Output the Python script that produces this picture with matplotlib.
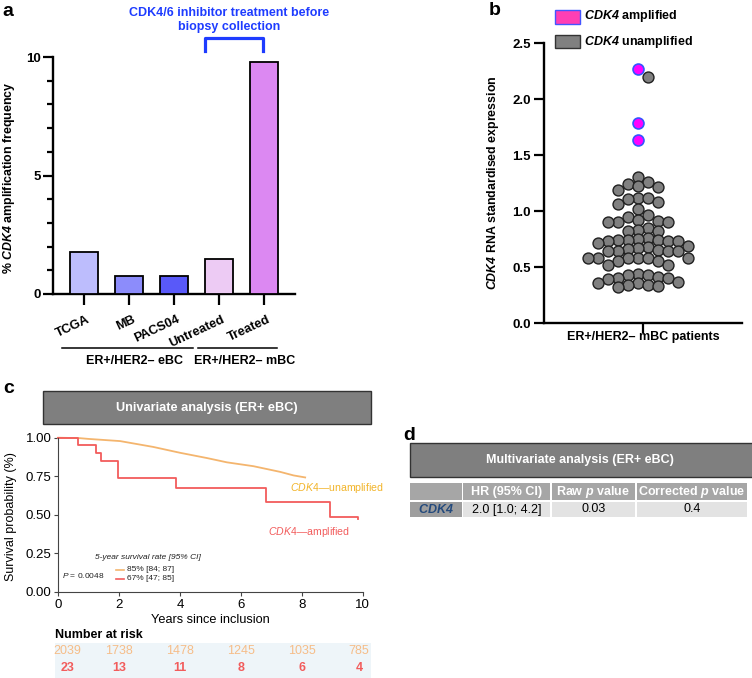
import numpy as np
import matplotlib
matplotlib.use("Agg")
import matplotlib.pyplot as plt
from matplotlib.patches import Rectangle
from matplotlib.transforms import blended_transform_factory, ScaledTranslation

plt.rcParams['font.family'] = ['Liberation Sans', 'DejaVu Sans']
plt.rcParams['mathtext.fontset'] = 'custom'
plt.rcParams['mathtext.rm'] = 'Liberation Sans'
plt.rcParams['mathtext.it'] = 'Liberation Sans:italic'
plt.rcParams['mathtext.bf'] = 'Liberation Sans:bold'
plt.rcParams['mathtext.bfit'] = 'Liberation Sans:italic:bold'

# ---------------- data ----------------
groups = ["TCGA", "MB", "PACS04", "Untreated", "Treated"]
amp_freq = [1.77, 0.76, 0.76, 1.48, 9.79]
bar_colors = ["#BDBDFD", "#8C8CFB", "#5959F9", "#EDCBF4", "#DC88F2"]

expr_amplified = [2.27, 1.79, 1.63]
expr_unamplified = [2.20,
                    1.30, 1.26, 1.24, 1.22, 1.21, 1.19,
                    1.12, 1.12, 1.11, 1.08, 1.06, 1.02,
                    0.96, 0.95, 0.92, 0.91, 0.90, 0.90, 0.90,
                    0.85, 0.83, 0.82, 0.82,
                    0.76, 0.75, 0.74, 0.74, 0.74, 0.73, 0.73, 0.73,
                    0.71, 0.69, 0.68, 0.67, 0.66, 0.65, 0.64, 0.64, 0.64, 0.64,
                    0.58, 0.58, 0.58, 0.58, 0.58, 0.58, 0.55, 0.55, 0.52, 0.52,
                    0.44, 0.43, 0.43, 0.41, 0.40, 0.40, 0.39, 0.37, 0.36, 0.36,
                    0.34, 0.34, 0.33, 0.32]

unamp_t = [0, 0.71, 1.0, 2.03, 3.12, 4.0, 4.88, 5.54, 6.41, 7.29, 7.73, 8.11]
unamp_s = [1.0, 0.997, 0.992, 0.978, 0.94, 0.902, 0.868, 0.84, 0.815, 0.778, 0.755, 0.742]
amp_t = [0, 0.66, 1.23, 1.40, 1.95, 3.86, 6.82, 8.91, 9.84]
amp_s = [1.0, 0.955, 0.90, 0.847, 0.736, 0.675, 0.584, 0.487, 0.47]

risk_times = [0, 2, 4, 6, 8, 10]
risk_unamp = [2039, 1738, 1478, 1245, 1035, 785]
risk_amp = [23, 13, 11, 8, 6, 4]

table_header = ["", "HR (95% CI)", r"Raw $\mathbfit{p}$ value", r"Corrected $\mathbfit{p}$ value"]
table_row = ["CDK4", "2.0 [1.0; 4.2]", "0.03", "0.4"]

# ---------------- figure ----------------
W, H = 752, 678
fig = plt.figure(figsize=(W / 100, H / 100), dpi=100)
ov = fig.add_axes([0, 0, 1, 1])
ov.set_xlim(0, W)
ov.set_ylim(H, 0)
ov.axis('off')


def px_axes(l, t, r, b):
    a = fig.add_axes([l / W, 1 - b / H, (r - l) / W, (b - t) / H])
    a.patch.set_visible(False)
    return a


BLUE = "#1E3CFF"
ORANGE = "#F4B56E"
ORANGE_TXT = "#F2B429"
RED = "#F25C5C"

# ---------------- panel a ----------------
axa = px_axes(53, 57, 295, 294)
xa = np.arange(len(groups))
axa.bar(xa, amp_freq, width=0.62, color=bar_colors, edgecolor='black', linewidth=1.3, zorder=3)
axa.set_xlim(-0.69, 4.69)
axa.set_ylim(0, 10)
for s in ['top', 'right']:
    axa.spines[s].set_visible(False)
for s in ['left', 'bottom']:
    axa.spines[s].set_linewidth(1.7)
axa.set_yticks([0, 5, 10])
axa.set_yticks(np.arange(0, 11, 1), minor=True)
axa.tick_params(axis='y', which='major', length=7, width=1.6, labelsize=9.5, pad=2)
axa.tick_params(axis='y', which='minor', length=4.5, width=1.6)
axa.tick_params(axis='x', length=8, width=1.6, pad=6)
axa.set_xticks(xa)
axa.set_xticklabels(groups, rotation=25, ha='right', rotation_mode='anchor',
                    fontsize=9.2, fontweight='bold')
shift = ScaledTranslation(3 / 100, 0, fig.dpi_scale_trans)
for lab in axa.get_xticklabels():
    lab.set_transform(lab.get_transform() + shift)
for lab in axa.get_yticklabels():
    lab.set_fontweight('bold')
ov.text(9, 178, r"% $\mathbfit{CDK4}$ amplification frequency", rotation=90,
        ha='center', va='center', fontsize=8.9, fontweight='bold')
ov.text(229, 20, "CDK4/6 inhibitor treatment before\nbiopsy collection", color=BLUE,
        fontweight='bold', fontsize=9, ha='center', va='center', linespacing=1.2)
ov.plot([205, 205, 263, 263], [51, 37.5, 37.5, 51], color=BLUE, lw=2.3, solid_joinstyle='round')
ov.plot([62, 193], [348, 348], color='black', lw=1.1)
ov.plot([198, 277], [348, 348], color='black', lw=1.1)
ov.text(135, 361, "ER+/HER2– eBC", fontweight='bold', fontsize=9, ha='center', va='center')
ov.text(245, 361, "ER+/HER2– mBC", fontweight='bold', fontsize=9, ha='center', va='center')
ov.text(2, 16, "a", fontsize=14, fontweight='bold', va='baseline')

# ---------------- panel b ----------------
axb = px_axes(544, 43, 742, 323)
axb.set_xlim(-1, 1)
axb.set_ylim(0, 2.5)
for s in ['top', 'right']:
    axb.spines[s].set_visible(False)
for s in ['left', 'bottom']:
    axb.spines[s].set_linewidth(1.7)
axb.set_yticks(np.arange(0, 2.51, 0.5))
axb.set_yticklabels([f"{v:.1f}" for v in np.arange(0, 2.51, 0.5)], fontweight='bold', fontsize=9.5)
axb.set_xticks([0])
axb.set_xticklabels([""])
axb.tick_params(axis='both', length=7.5, width=1.6, pad=2)

# beeswarm-like layout from values (columns, no overlap)
bb = axb.get_position()
ppx = bb.width * W / 2.0
ppy = bb.height * H / 2.5
allv = [(v, 1) for v in expr_amplified] + [(v, 0) for v in expr_unamplified]
allv.sort(key=lambda p: -p[0])
cands = []
for k in range(14):
    cands += [-(k + 0.5) * 10.0, (k + 0.5) * 10.0]
placed = []
xs_amp, ys_amp, xs_un, ys_un = [], [], [], []
for v, g in allv:
    yp = v * ppy
    for c in cands:
        if all((c - a) ** 2 + (yp - b) ** 2 >= 8.0 ** 2 for a, b in placed):
            break
    placed.append((c, yp))
    if g:
        xs_amp.append(c / ppx); ys_amp.append(v)
    else:
        xs_un.append(c / ppx); ys_un.append(v)
axb.scatter(xs_un, ys_un, s=62, color='#808080', edgecolor='#202020', linewidth=1.0, zorder=3, clip_on=False)
axb.scatter(xs_amp, ys_amp, s=62, color='#FF00FF', edgecolor='#3355FF', linewidth=1.2, zorder=4, clip_on=False)

ov.add_patch(Rectangle((555, 10), 25, 13.5, fc='#FF3FB4', ec='#4455FF', lw=1))
ov.add_patch(Rectangle((555, 34.5), 25, 13.5, fc='#808080', ec='#333333', lw=1))
ov.text(584, 16.5, r"$\mathbfit{CDK4}$ amplified", fontweight='bold', fontsize=9, va='center')
ov.text(584, 41.5, r"$\mathbfit{CDK4}$ unamplified", fontweight='bold', fontsize=9, va='center')
ov.text(493, 183, r"$\mathbfit{CDK4}$ RNA standardised expression", rotation=90,
        ha='center', va='center', fontsize=8.9, fontweight='bold')
ov.text(643, 337, "ER+/HER2– mBC patients", ha='center', va='center', fontsize=9, fontweight='bold')
ov.text(489, 15, "b", fontsize=14, fontweight='bold', va='baseline')

# ---------------- panel c ----------------
axc = px_axes(58.3, 437.7, 362.7, 591.7)
axc.set_xlim(0, 10)
axc.set_ylim(0, 1)
for s in ['top', 'right']:
    axc.spines[s].set_visible(False)
for s in ['left', 'bottom']:
    axc.spines[s].set_linewidth(0.8)
    axc.spines[s].set_color('#444444')
axc.set_xticks(np.arange(0, 11, 2))
axc.set_yticks([0, 0.25, 0.5, 0.75, 1.0])
axc.set_yticklabels(["0.00", "0.25", "0.50", "0.75", "1.00"])
axc.tick_params(axis='both', length=3, width=0.8, color='#444444', labelsize=9.5, pad=2)
axc.plot(unamp_t, unamp_s, color=ORANGE, lw=1.3, clip_on=False)
axc.plot(amp_t, amp_s, color=RED, lw=1.3, drawstyle='steps-post', clip_on=False)
axc.text(9.15, 0.671, r"$\mathit{CDK4}$—unamplified", color=ORANGE_TXT, fontsize=7.6,
         ha='center', va='center')
axc.text(8.24, 0.388, r"$\mathit{CDK4}$—amplified", color=RED, fontsize=7.6,
         ha='center', va='center')
axc.text(2.93, 0.221, "5-year survival rate [95% CI]", fontstyle='italic', fontsize=6.0,
         ha='center', va='center', color='#222222')
axc.plot([1.9, 2.16], [0.141, 0.141], color=ORANGE, lw=1.2)
axc.plot([1.9, 2.16], [0.084, 0.084], color=RED, lw=1.2)
axc.text(2.26, 0.141, "85% [84; 87]", fontsize=6.0, va='center', color='#222222')
axc.text(2.26, 0.084, "67% [47; 85]", fontsize=6.0, va='center', color='#222222')
axc.text(0.12, 0.102, r"$\mathit{P}$ = 0.0048", fontsize=6.0, va='center', color='#222222')

ov.add_patch(Rectangle((43, 390.7), 328, 33.6, fc='#7F7F7F', ec='#333333', lw=1))
ov.text(207, 408, "Univariate analysis (ER+ eBC)", color='white', fontweight='bold',
        fontsize=9.2, ha='center', va='center')
ov.text(11, 516.7, "Survival probability (%)", rotation=90, ha='center', va='center', fontsize=9)
ov.text(210, 620, "Years since inclusion", ha='center', va='center', fontsize=9.2)
ov.text(3, 393, "c", fontsize=14, fontweight='bold', va='baseline')

ov.add_patch(Rectangle((55, 643), 316, 35, fc='#EEF5F9', ec='none'))
ov.text(55, 635, "Number at risk", fontweight='bold', fontsize=9, va='center')
tr = blended_transform_factory(axc.transData, ov.transData)
for t, nu, na in zip(risk_times, risk_unamp, risk_amp):
    xt = min(max(t, 0.3), 9.88)
    ov.text(xt, 651, str(nu), transform=tr, color='#F6BD88', fontsize=9, ha='center', va='center')
    ov.text(xt, 668, str(na), transform=tr, color=RED, fontsize=9, fontweight='bold',
            ha='center', va='center')

# ---------------- panel d ----------------
ov.text(403, 440, "d", fontsize=14, fontweight='bold', va='baseline')
ov.add_patch(Rectangle((410, 442.7), 345, 34, fc='#7F7F7F', ec='#333333', lw=1))
ov.text(580, 459.7, "Multivariate analysis (ER+ eBC)", color='white', fontweight='bold',
        fontsize=9, ha='center', va='center')
col_edges = [(410, 461.7), (463.3, 550), (551.7, 635), (636.7, 747)]
for i, ((x0, x1), head, val) in enumerate(zip(col_edges, table_header, table_row)):
    ov.add_patch(Rectangle((x0, 483.3), x1 - x0, 16.4, fc='#A6A6A6', ec='none'))
    ov.text((x0 + x1) / 2, 491.7, head, color='white', fontweight='bold',
            fontsize=9, ha='center', va='center')
    if i == 0:
        ov.add_patch(Rectangle((x0, 502.3), x1 - x0, 14.6, fc='#9E9E9E', ec='none'))
        ov.text((x0 + x1) / 2, 509.5, r"$\mathbfit{" + val + "}$", color='#244A7C',
                fontsize=9, ha='center', va='center')
    else:
        ov.add_patch(Rectangle((x0, 502.3), x1 - x0, 14.6, fc='#E3E3E3', ec='none'))
        ov.text((x0 + x1) / 2, 509.5, val, color='black',
                fontsize=9, ha='center', va='center')

fig.savefig("out.png", dpi=100)
